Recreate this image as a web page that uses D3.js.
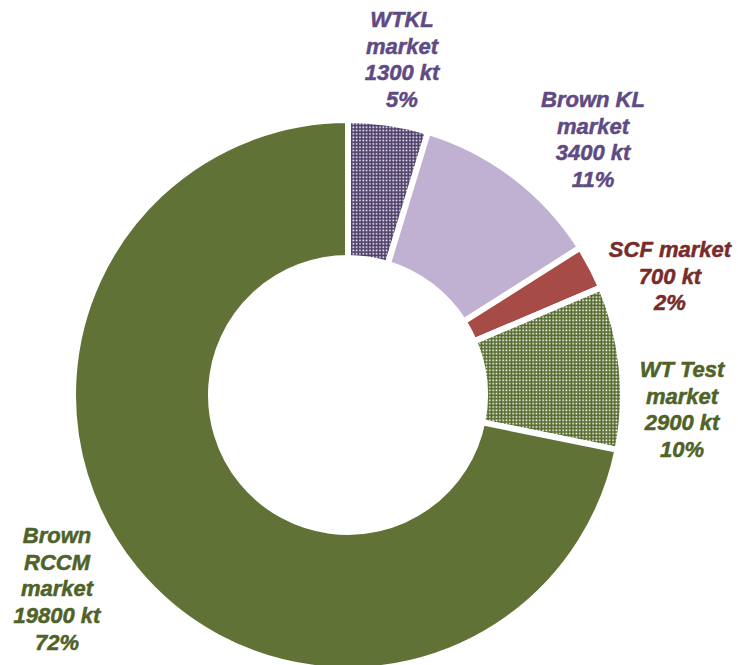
<!DOCTYPE html>
<html>
<head>
<meta charset="utf-8">
<script src="https://cdn.jsdelivr.net/npm/d3@7"></script>
<style>
  body { margin: 0; background: #fff; }
  svg { display: block; }
  .lbl { font-family: "Liberation Sans", Arial, sans-serif; font-weight: bold; font-style: italic; font-size: 22px; }
</style>
</head>
<body>
<svg id="chart" width="738" height="665"></svg>
<script>
// markets, clockwise from 12 o'clock
const markets = ['WTKL', 'Brown KL', 'SCF', 'WT Test', 'Brown RCCM'];
// share of the ring as drawn (percent)
const shares = [4.7, 11.3, 2.6, 9.6, 71.8];
// figures printed in the labels
const labelKt = [1300, 3400, 700, 2900, 19800];
const labelPct = [5, 11, 2, 10, 72];
const labelLines = [
	['WTKL', 'market'],
	['Brown KL', 'market'],
	['SCF market'],
	['WT Test', 'market'],
	['Brown', 'RCCM', 'market']
];

const fills = ['url(#dots-purple)', '#c0b1d3', '#a64b45', 'url(#dots-green)', '#617236'];
const textColors = ['#5f4b83', '#5f4b83', '#772c2a', '#4f6228', '#4f6228'];
// label anchor (centre x, first baseline y)
const labelPos = [[402, 27], [593, 107], [670, 257], [682, 377], [57, 543]];

const svg = d3.select('#chart');
const cx = 348, cy = 395;
const outerR = 275, innerR = 137;

const defs = svg.append('defs');
function dotPattern(id, color) {
	const p = defs.append('pattern')
		.attr('id', id)
		.attr('patternUnits', 'userSpaceOnUse')
		.attr('width', 3.33)
		.attr('height', 3.33);
	p.append('rect').attr('width', 3.33).attr('height', 3.33).attr('fill', color);
	p.append('rect').attr('x', 1.2).attr('y', 1.2).attr('width', 1.6).attr('height', 1.6).attr('fill', '#fff');
}
dotPattern('dots-purple', '#4b3c69');
dotPattern('dots-green', '#556a2b');

const pie = d3.pie().sort(null).value((d) => d);
const arc = d3.arc().innerRadius(innerR).outerRadius(outerR);

const g = svg.append('g').attr('transform', 'translate(' + cx + ',' + cy + ')');

g.selectAll('.slice')
	.data(pie(shares))
	.enter().append('path')
	.attr('class', 'slice')
	.attr('d', arc)
	.attr('fill', (d, i) => fills[i])
	.attr('stroke', '#fff')
	.attr('stroke-width', 6)
	.attr('stroke-linejoin', 'miter');

const labels = svg.selectAll('.lbl')
	.data(markets)
	.enter().append('text')
	.attr('class', 'lbl')
	.attr('text-anchor', 'middle')
	.attr('fill', (d, i) => textColors[i])
	.attr('stroke', (d, i) => textColors[i])
	.attr('stroke-width', 0.5)
	.attr('transform', (d, i) => 'translate(' + labelPos[i][0] + ',' + labelPos[i][1] + ')');

labels.each(function(d, i) {
	const lines = labelLines[i].concat([labelKt[i] + ' kt', labelPct[i] + '%']);
	d3.select(this).selectAll('tspan')
		.data(lines)
		.enter().append('tspan')
		.attr('x', 0)
		.attr('y', (l, j) => j * 26.7)
		.text((l) => l);
});
</script>
</body>
</html>
